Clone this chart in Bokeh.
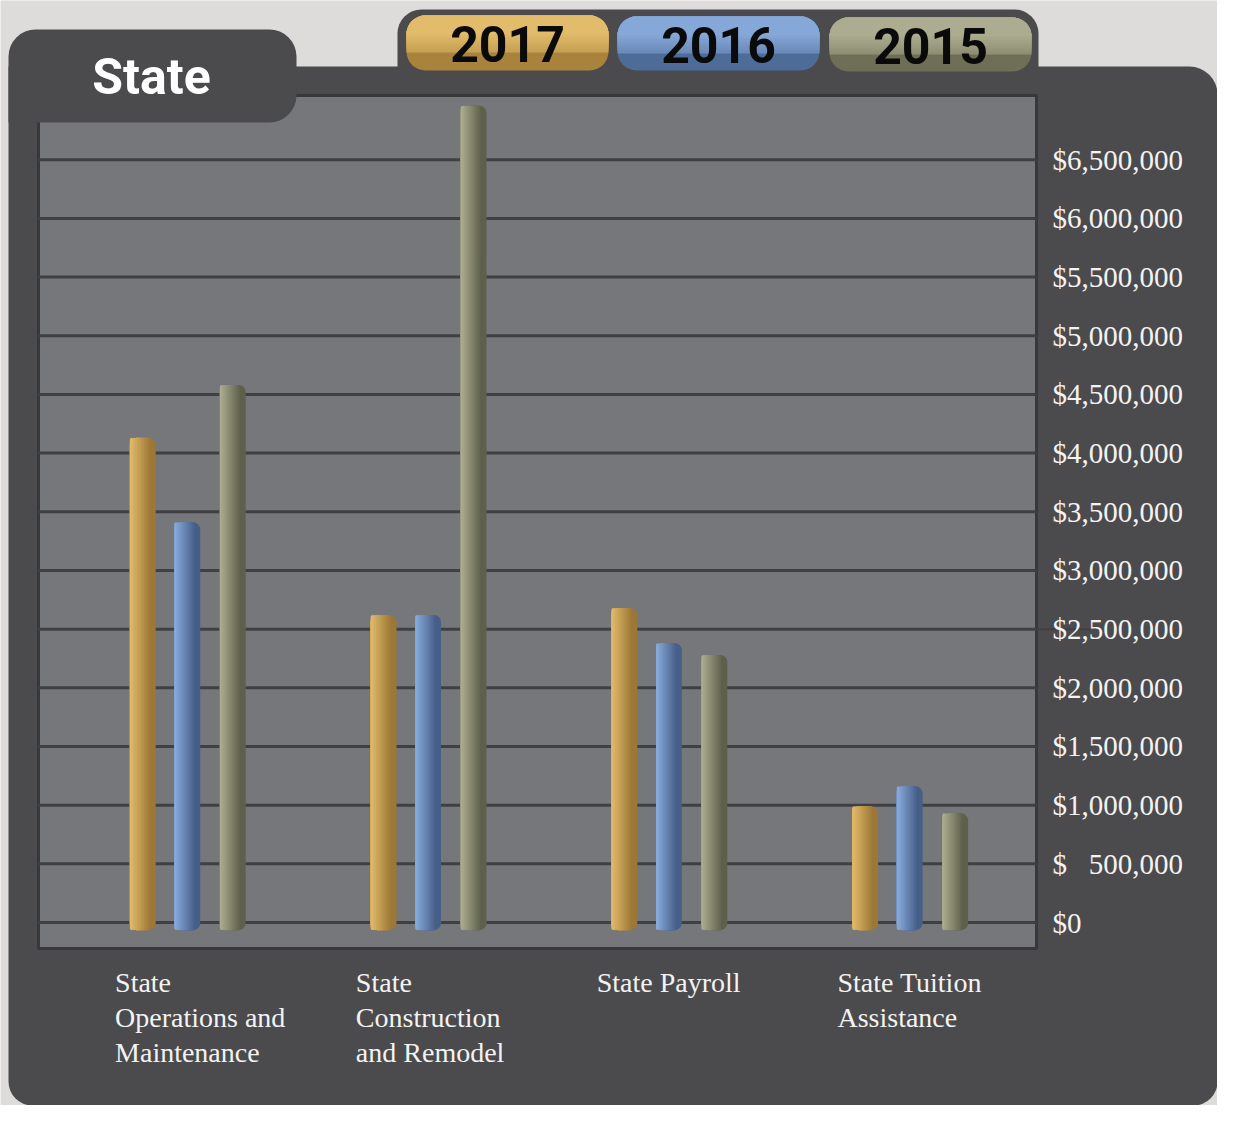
import numpy as np
from bokeh.plotting import figure
from bokeh.models import Range1d, LinearAxis, FixedTicker
from bokeh.core.properties import value
from bokeh.embed import file_html
from bokeh.resources import INLINE

# ---------------- data ----------------
title_text = "State"
categories = [
    "State\nOperations and\nMaintenance",
    "State\nConstruction\nand Remodel",
    "State Payroll",
    "State Tuition\nAssistance",
]
years = ["2017", "2016", "2015"]
values_2017 = [4130000, 2620000, 2680000, 990000]
values_2016 = [3410000, 2620000, 2380000, 1160000]
values_2015 = [4580000, 6960000, 2280000, 930000]
tick_values = [0, 500000, 1000000, 1500000, 2000000, 2500000, 3000000,
               3500000, 4000000, 4500000, 5000000, 5500000, 6000000, 6500000]
tick_labels = ["$0", "$\u2007\u2008500,000", "$1,000,000", "$1,500,000", "$2,000,000",
               "$2,500,000", "$3,000,000", "$3,500,000", "$4,000,000", "$4,500,000",
               "$5,000,000", "$5,500,000", "$6,000,000", "$6,500,000"]

# ---------------- layout / style ----------------
W, H = 1217, 1105
PX_PER_CAT = 240.8          # pixels between category groups
CAT0_PX = 186.8             # screen x of first category centre
PX_PER_USD = 117.35 / 1e6   # pixels per dollar
ZERO_PY = 922               # screen y of $0

BG = "#dddcda"
PANEL = "#4b4b4d"
PLOT_BG = "#76777b"
GRID = "#404042"
BORDER = "#38383a"
TEXT = "#f3f3f3"
HEAVY = "Roboto"
SERIF = "Liberation Serif"

year_colors = {  # (light/left, dark/right)
    "2017": ("#dfb968", "#9c7736"),
    "2016": ("#87a9da", "#465f88"),
    "2015": ("#aaab8f", "#5e604b"),
}
pill_colors = {  # (top, bottom)
    "2017": ("#e2bc6a", "#a9833b"),
    "2016": ("#86a8d8", "#4d6c98"),
    "2015": ("#acac90", "#6e6f56"),
}

x_range = Range1d(-CAT0_PX / PX_PER_CAT, (W - CAT0_PX) / PX_PER_CAT)
y_range = Range1d(-(H - ZERO_PY) / PX_PER_USD, ZERO_PY / PX_PER_USD)

p = figure(width=W, height=H, x_range=x_range, y_range=y_range,
           output_backend="svg", toolbar_location=None,
           x_axis_location=None, y_axis_location=None, min_border=0,
           background_fill_color=BG, border_fill_color=BG,
           outline_line_color=None)
p.grid.visible = False
p.extra_x_ranges = {"px": Range1d(0, W)}
p.extra_y_ranges = {"px": Range1d(H, 0)}

def box(l, r, t, b, color, radius=0, line_color=None, line_width=1):
    p.quad(left=[l], right=[r], top=[t], bottom=[b], x_range_name="px",
           y_range_name="px", fill_color=color, line_color=line_color,
           line_width=line_width, border_radius=radius)

def mix(c1, c2, t):
    a = np.array([int(c1[i:i + 2], 16) for i in (1, 3, 5)])
    b = np.array([int(c2[i:i + 2], 16) for i in (1, 3, 5)])
    c = np.round(a + (b - a) * t).astype(int)
    return "#%02x%02x%02x" % tuple(c)

# dark panel
box(8, W, 66, H, PANEL, radius=(0, 28, 24, 24))
# legend container
box(397, 1038, 9, 80, PANEL, radius=(24, 24, 0, 0))
# plot area
box(38, 1036, 95, 948, PLOT_BG, line_color=BORDER, line_width=3)

# gridlines
p.segment(x0=[38] * len(tick_values), x1=[1036] * len(tick_values),
          y0=tick_values, y1=tick_values, x_range_name="px",
          line_color=GRID, line_width=3)
# stray gridline stub behind the $2,500,000 label (as in the original)
p.segment(x0=[1036], x1=[1090], y0=[tick_values[5]], y1=[tick_values[5]],
          x_range_name="px", line_color=GRID, line_width=2)

# bars (horizontal shading built from stacked layers)
idx = np.arange(len(categories))
series = {"2017": values_2017, "2016": values_2016, "2015": values_2015}
offsets_px = {"2017": -44.5, "2016": 0.0, "2015": 45.5}
BW_PX = 25.8
BW = BW_PX / PX_PER_CAT
BASE = -65000
M = 11
for yr in years:
    xc = idx + offsets_px[yr] / PX_PER_CAT
    light, dark = year_colors[yr]
    p.vbar(x=xc, width=BW, top=series[yr], bottom=BASE, fill_color=dark,
           line_color=None, border_radius=7)
    for k in range(M):
        frac = 0.76 * (1 - k / M)
        wk = BW * frac
        col = mix(dark, light, (k + 1) / M)
        p.vbar(x=xc - BW / 2 + wk / 2, width=wk, top=series[yr], bottom=BASE,
               fill_color=col, line_color=None, border_radius=(7, 0, 0, 7))

# title tab
box(8, 296, 29, 122, PANEL, radius=(27, 27, 27, 0))
p.text(x=[151], y=[76], text=[title_text], x_range_name="px", y_range_name="px",
       text_align="center", text_baseline="middle", text_color="white",
       text_font=value(HEAVY), text_font_style="bold", text_font_size="50px")

# year pills (vertical shading from stacked layers)
pills = {"2017": (406, 608, 15, 70), "2016": (617, 819, 16, 70), "2015": (829, 1031, 17, 71)}
PR = 19
layer_h = [37, 34, 31, 28, 25, 22, 19]
for yr in years:
    l, r, t, b = pills[yr]
    c_top, c_bot = pill_colors[yr]
    box(l, r, t, b, c_bot, radius=PR)
    for j, hh in enumerate(layer_h):
        col = mix(c_bot, c_top, 0.45 + 0.55 * (j + 1) / len(layer_h))
        box(l, r, t, t + hh, col, radius=(PR, PR, 0, 0))
    p.text(x=[(l + r) / 2], y=[(t + b) / 2 + 1], text=[yr], x_range_name="px",
           y_range_name="px", text_align="center", text_baseline="middle",
           text_color="#0a0a0a", text_font=value(HEAVY), text_font_style="bold",
           text_font_size="50px")

# category labels
p.text(x=idx - 0.3, y=[966] * len(categories), text=categories, y_range_name="px",
       text_align="left", text_baseline="top", text_color=TEXT,
       text_font=value(SERIF), text_font_size="28px", text_line_height=1.13)

# value axis (tick labels)
ax = LinearAxis(x_range_name="px", fixed_location=1036,
                ticker=FixedTicker(ticks=tick_values),
                major_label_overrides={v: s for v, s in zip(tick_values, tick_labels)},
                axis_line_color=None, major_tick_line_color=None,
                minor_tick_line_color=None, major_tick_out=0, major_tick_in=0,
                major_label_standoff=16, major_label_text_font=SERIF,
                major_label_text_font_size="29px", major_label_text_color=TEXT)
p.add_layout(ax, "right")

open("out.html", "w").write(file_html(p, INLINE))
